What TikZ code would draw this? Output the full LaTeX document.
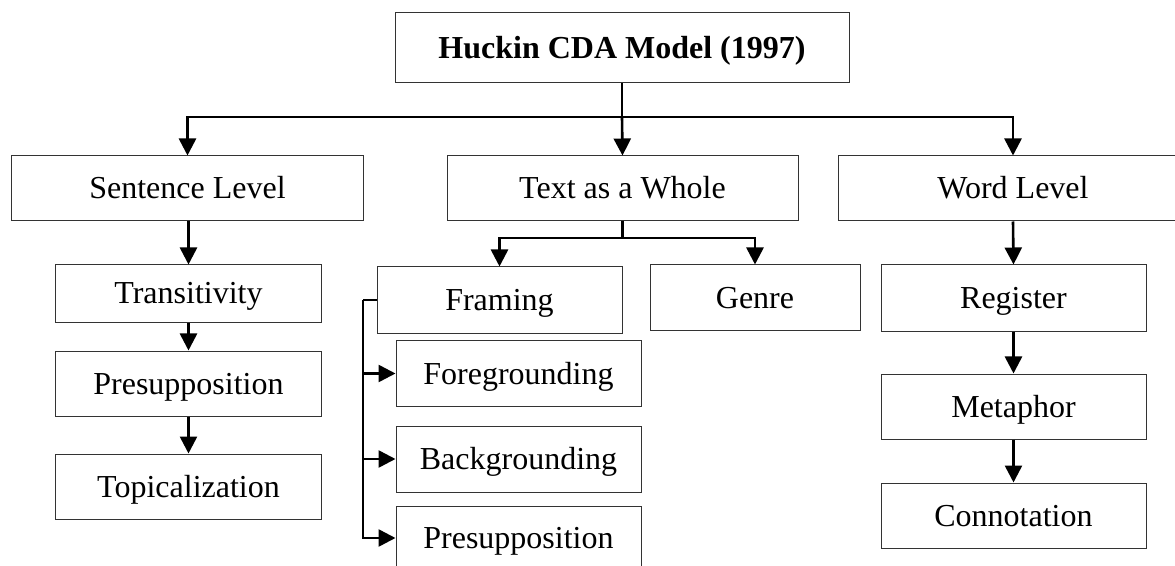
\documentclass[tikz,border=0pt]{standalone}
\usepackage{fontspec}
\setmainfont{Liberation Serif}
\usetikzlibrary{arrows.meta}
\tikzset{
  box/.style={draw=black!80, line width=1bp, inner sep=0pt, text height=21bp, text depth=0pt,
    font=\fontsize{32bp}{38bp}\selectfont, align=center},
  conn/.style={line width=2.6bp, black},
  arr/.style={conn, -{Triangle[length=17bp,width=17bp]}}
}
\begin{document}
\begin{tikzpicture}[x=1bp,y=-1bp]
\useasboundingbox (0,0) rectangle (1175,566);
\clip (0,0) rectangle (1175,566);
% top
\node[box, minimum width=454bp, minimum height=70bp] (title) at (622,48) {\bfseries Huckin CDA Model (1997)};
\node[box, minimum width=351bp, minimum height=65bp] (sent) at (187.5,188.5) {Sentence Level};
\node[box, minimum width=351bp, minimum height=65bp] (whole) at (622.5,188.5) {Text as a Whole};
\node[box, minimum width=350bp, minimum height=65bp] (word) at (1013,188.5) {Word Level};
% left column
\node[box, minimum width=265bp, minimum height=57bp] (trans) at (188.5,293.5) {Transitivity};
\node[box, minimum width=265bp, minimum height=65bp] (presL) at (188.5,383.5) {Presupposition};
\node[box, minimum width=265bp, minimum height=65bp] (topic) at (188.5,486.5) {Topicalization};
% middle column
\node[box, minimum width=245bp, minimum height=66bp] (fram) at (499.5,300) {Framing};
\node[box, minimum width=210bp, minimum height=65bp] (genre) at (755,297.5) {Genre};
\node[box, minimum width=245bp, minimum height=65bp] (fore) at (518.5,373.5) {Foregrounding};
\node[box, minimum width=245bp, minimum height=66bp] (back) at (518.5,459) {Backgrounding};
\node[box, minimum width=245bp, minimum height=64bp] (presM) at (518.5,538) {Presupposition};
% right column
\node[box, minimum width=265bp, minimum height=66bp] (reg) at (1013.5,298) {Register};
\node[box, minimum width=265bp, minimum height=65bp] (meta) at (1013.5,406.5) {Metaphor};
\node[box, minimum width=265bp, minimum height=65bp] (conno) at (1013.5,515.5) {Connotation};
% connectors
\coordinate (hub) at (622,117);
\draw[conn] (title.south) -- (hub);
\draw[arr] (hub) -| (sent.north);
\draw[arr] (hub) -- (whole.north);
\draw[arr] (hub) -| (word.north);
\draw[arr] (sent.south -| trans.north) -- (trans.north);
\draw[arr] (trans.south) -- (presL.north);
\draw[arr] (presL.south) -- (topic.north);
\coordinate (split) at (622.5,238);
\draw[conn] (whole.south) -- (split);
\draw[arr] (split) -| (fram.north);
\draw[arr] (split) -| (genre.north);
\coordinate (fl) at (363,300);
\draw[conn] (fram.west) -- (fl);
\draw[arr] (fl) |- (fore.west);
\draw[arr] (fl) |- (back.west);
\draw[arr] (fl) |- (presM.west);
\draw[arr] (word.south) -- (reg.north);
\draw[arr] (reg.south) -- (meta.north);
\draw[arr] (meta.south) -- (conno.north);
\end{tikzpicture}
\end{document}
